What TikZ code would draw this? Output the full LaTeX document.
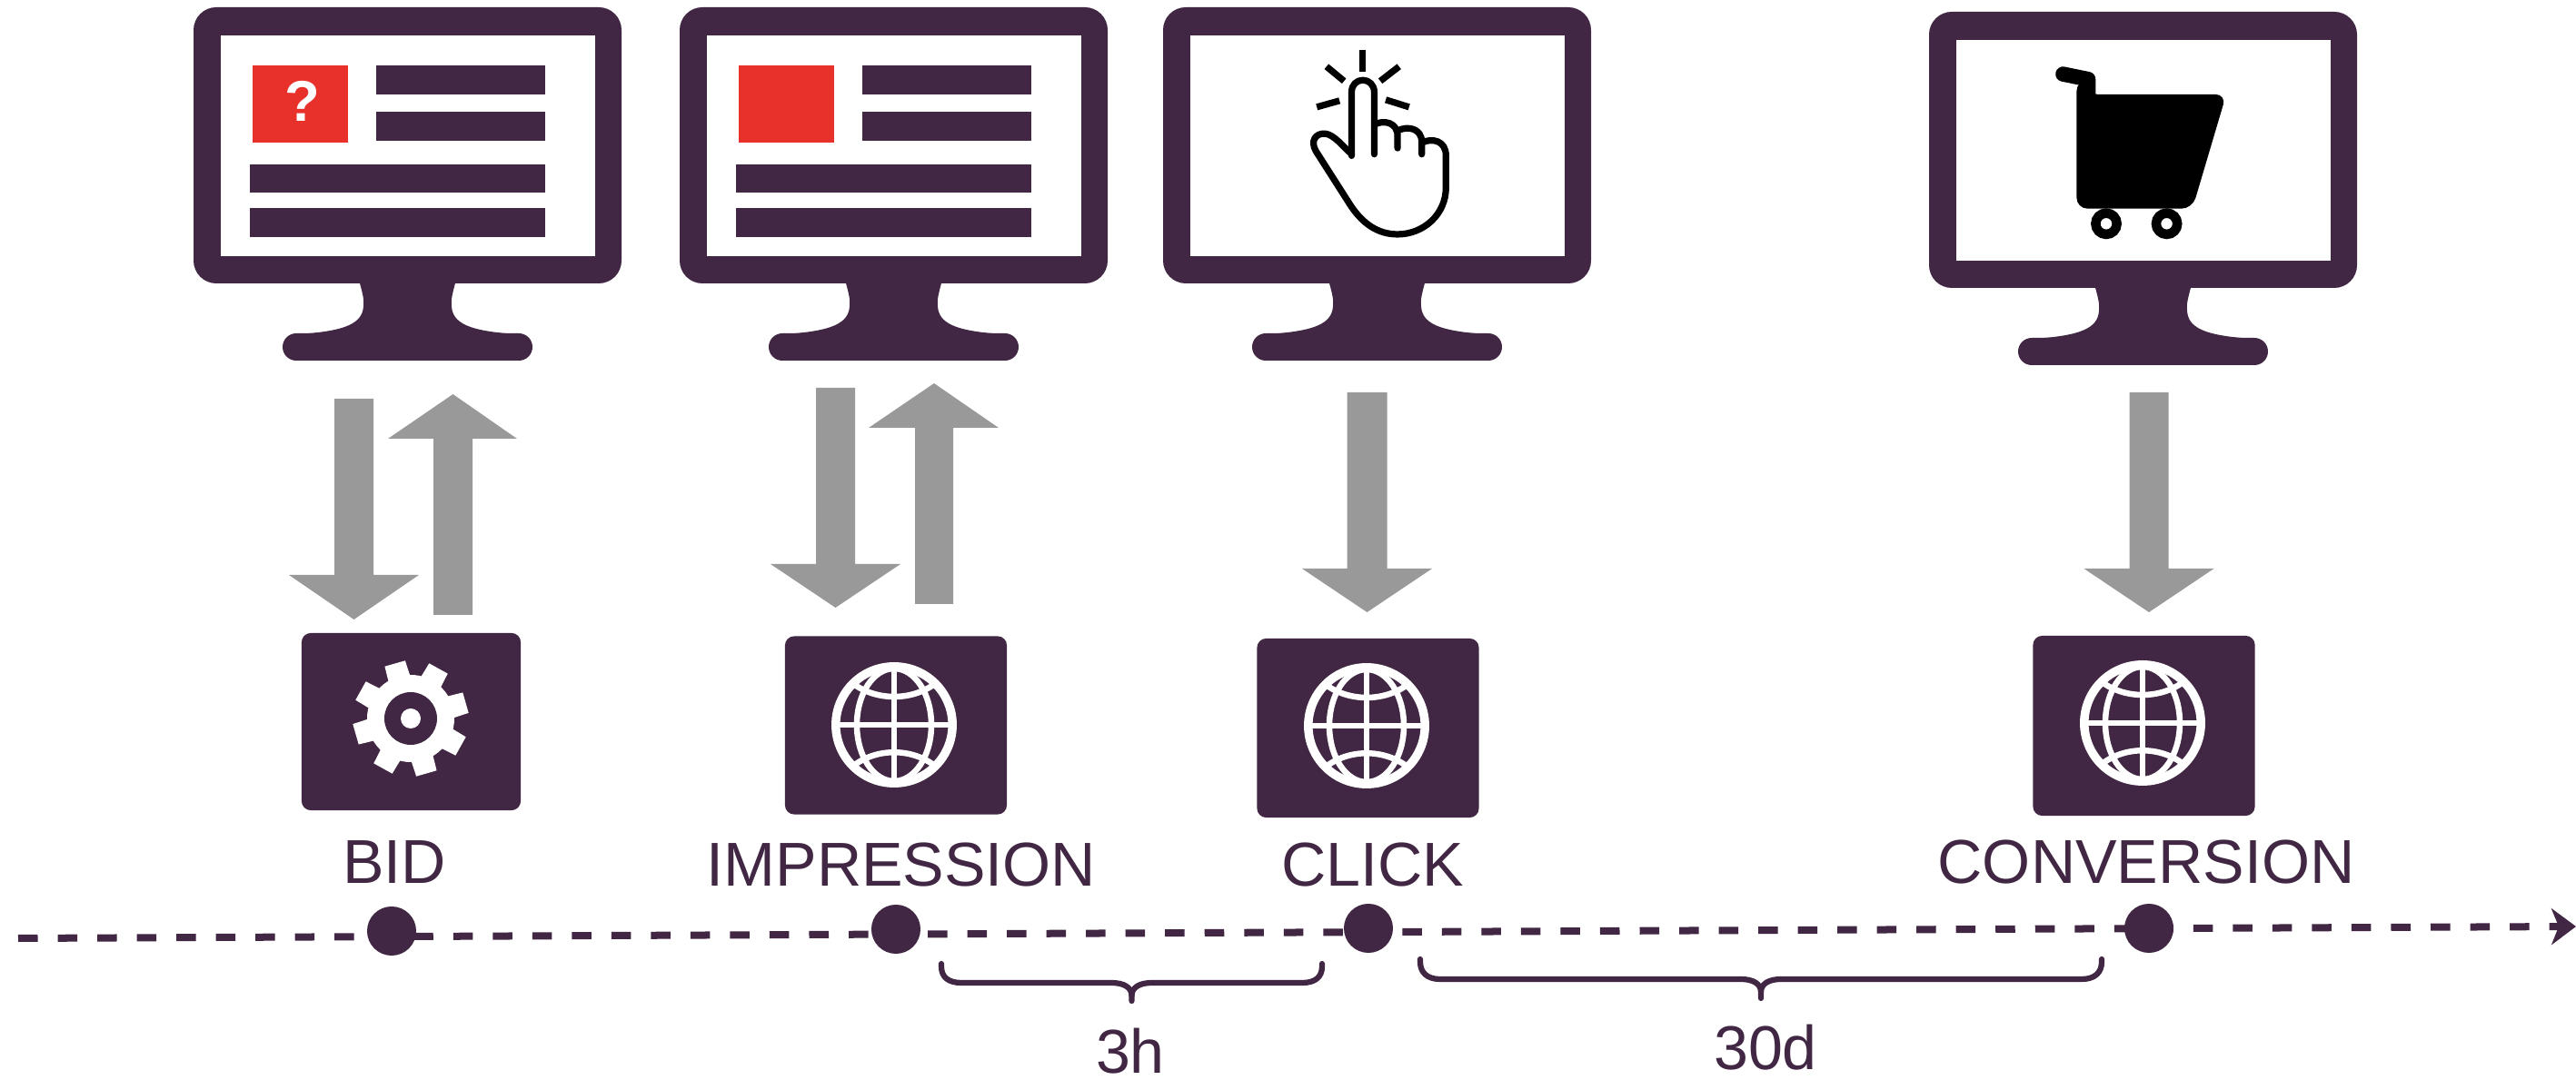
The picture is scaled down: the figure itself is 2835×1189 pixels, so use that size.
\documentclass[tikz,border=0pt]{standalone}
\usepackage{fontspec}
\setmainfont{Liberation Sans}
\usetikzlibrary{arrows.meta}
\definecolor{plum}{HTML}{412743}
\definecolor{adred}{HTML}{E8312A}
\definecolor{arrowgrey}{HTML}{999999}
\tikzset{
  plumfill/.style={fill=plum,draw=none},
  caption/.style={text=plum,font=\fontsize{19.4pt}{22pt}\selectfont,inner sep=0pt,anchor=base},
  serverbox/.style={fill=plum,draw=none,rounded corners=0.1cm,inner sep=0pt,minimum width=2.44cm,minimum height=1.96cm},
  dot/.style={circle,fill=plum,draw=none,inner sep=0pt,minimum size=0.54cm},
  timeline/.style={draw=plum,line width=0.08cm,dash pattern=on 0.215cm off 0.22cm},
  spanbrace/.style={draw=plum,line width=0.062cm,line cap=round,line join=round},
  globeline/.style={draw=white,line width=0.065cm},
  blockarrow/.style={fill=arrowgrey,draw=none},
  handline/.style={draw=black,line width=0.072cm,line cap=round,line join=round}
}
\newcommand{\monitorframe}[2]{%
  \begin{scope}[shift={(#1,#2)}]
    \fill[plumfill,rounded corners=0.25cm] (0,0) rectangle (471,304);
    \fill[white] (30,31) rectangle (441.5,274);
    \fill[plumfill,rounded corners=0.15cm] (98,359) rectangle (373,389);
    \fill[plumfill] (182,300) .. controls (186,315) and (188,322) .. (187,329)
       .. controls (186,347) and (170,357) .. (112,360) -- (112,375) -- (359,375) -- (359,360)
       .. controls (301,357) and (285,347) .. (284,329)
       .. controls (283,322) and (285,315) .. (289,300) -- cycle;
  \end{scope}}
\newcommand{\adpage}[2]{%
  \begin{scope}[shift={(#1,#2)}]
    \fill[adred] (65,64) rectangle (169.5,149);
    \fill[plumfill] (200.5,64) rectangle (387,96);
    \fill[plumfill] (200.5,115) rectangle (387,147);
    \fill[plumfill] (62.4,173) rectangle (387,204);
    \fill[plumfill] (62.4,221) rectangle (387,253);
  \end{scope}}
\newcommand{\globeicon}[2]{%
  \begin{scope}[shift={(#1,#2)}]
    \draw[draw=white,line width=0.095cm] (0,0) circle[radius=64.2];
    \draw[globeline] (0,-62) -- (0,62);
    \draw[globeline] (-62,0) -- (62,0);
    \draw[globeline] (0,0) ellipse[x radius=41,y radius=62];
    \draw[globeline] (-46,-46) .. controls (-20,-26) and (20,-26) .. (46,-46);
    \draw[globeline] (-46,46) .. controls (-20,25) and (20,25) .. (46,46);
  \end{scope}}
\newcommand{\gearicon}[2]{%
  \begin{scope}[shift={(#1,#2)}]
    \fill[white] (0,0) circle[radius=48];
    \foreach \k in {0,...,7}{
      \fill[white] ({-(16+45*\k)+16}:45) -- ({-(16+45*\k)+10.5}:64) -- ({-(16+45*\k)-10.5}:64) -- ({-(16+45*\k)-16}:45) -- cycle;
    }
    \fill[plum] (0,0) circle[radius=29];
    \fill[white] (0,0) circle[radius=11];
  \end{scope}}
\newcommand{\downarrowshape}[5]{% x-centre, top, base, tip, half-shaft
  \fill[blockarrow] ({#1-#5},#2) -- ({#1+#5},#2) -- ({#1+#5},#3) -- ({#1+71.5},#3) -- (#1,#4) -- ({#1-71.5},#3) -- ({#1-#5},#3) -- cycle;}
% brace from a named coordinate: width, half width, bar drop, tip drop
\newcommand{\spanbraceshape}[5]{%
  \begin{scope}[shift={(#1)}]
    \draw[spanbrace] (0,0) -- (0,3) .. controls (0,15) and (8,#4) .. (22,#4) -- ({#3-22},#4)
       .. controls ({#3-9},#4) and (#3,{#4+5}) .. (#3,{#4+14}) -- (#3,#5);
    \draw[spanbrace] (#2,0) -- (#2,3) .. controls (#2,15) and ({#2-8},#4) .. ({#2-22},#4) -- ({#3+22},#4)
       .. controls ({#3+9},#4) and (#3,{#4+5}) .. (#3,{#4+14});
  \end{scope}}
\begin{document}
\begin{tikzpicture}[x=0.01cm,y=-0.01cm]
\useasboundingbox (0,0) rectangle (2835,1189);
% monitors
\monitorframe{213}{8}
\monitorframe{748}{8}
\monitorframe{1280}{8}
\monitorframe{2123}{13}
\adpage{213}{8}
\adpage{748}{8}
\node[text=white,font=\fontsize{18pt}{20pt}\selectfont\bfseries,inner sep=0pt,anchor=base] (qmark) at (332.5,134) {?};
% click hand
\begin{scope}[shift={(1380,30)},x=0.003333cm,y=-0.003333cm]
  \draw[handline,line cap=butt] (360,75) -- (360,148);
  \draw[handline,line cap=butt] (240,130) -- (298,178);
  \draw[handline,line cap=butt] (480,130) -- (418,178);
  \draw[handline,line cap=butt] (208,264) -- (283,243);
  \draw[handline,line cap=butt] (513,264) -- (436,240);
  \draw[handline] (323,425) -- (323,215) .. controls (323,190) and (340,175) .. (360,175)
     .. controls (380,175) and (398,190) .. (398,215) -- (398,420);
  \draw[handline] (398,322) .. controls (430,305) and (475,315) .. (475,360) -- (475,400);
  \draw[handline] (475,342) .. controls (510,325) and (555,335) .. (555,380) -- (555,420);
  \draw[handline] (555,382) .. controls (590,365) and (635,375) .. (635,425) -- (635,530)
     .. controls (635,620) and (560,685) .. (475,685)
     .. controls (410,685) and (360,650) .. (320,590) -- (205,410)
     .. controls (185,375) and (205,350) .. (235,352)
     .. controls (265,355) and (295,395) .. (323,420);
\end{scope}
% cart
\begin{scope}[shift={(2120,30)},x=0.003333cm,y=-0.003333cm]
  \draw[black,line width=0.165cm,line cap=round,line join=round] (452,155) -- (535,172) -- (535,240);
  \fill[black,rounded corners=0.12cm] (497,175) -- (497,600) -- (880,600) -- (992,222) -- (530,222) -- (530,175) -- cycle;
  \draw[black,line width=0.105cm] (595,650) circle[radius=35];
  \draw[black,line width=0.105cm] (795,650) circle[radius=35];
\end{scope}
% block arrows
\downarrowshape{389.5}{439}{633}{682}{21.5}
\fill[blockarrow] (477,677) -- (520,677) -- (520,483) -- (569,483) -- (498.5,434) -- (427,483) -- (477,483) -- cycle;
\downarrowshape{919.5}{427}{621}{669}{21.5}
\fill[blockarrow] (1007,665) -- (1049,665) -- (1049,471) -- (1099,471) -- (1028,422) -- (956,471) -- (1007,471) -- cycle;
\downarrowshape{1504.5}{432}{626}{674}{22}
\downarrowshape{2365}{432}{626}{674}{21.5}
% server boxes
\node[serverbox,minimum width=2.41cm,minimum height=1.95cm] (bidbox) at (452.5,794.5) {};
\node[serverbox] (impbox) at (986,798.5) {};
\node[serverbox,minimum height=1.97cm] (clickbox) at (1505.5,801.5) {};
\node[serverbox,minimum height=1.98cm] (convbox) at (2359.5,799) {};
\gearicon{452}{791}
\globeicon{984}{798}
\globeicon{1504}{799}
\globeicon{2358}{796}
% captions
\node[caption] (bidlabel) at (434,973) {BID};
\node[caption] (implabel) at (992,976) {IMPRESSION};
\node[caption] (clicklabel) at (1511,976) {CLICK};
\node[caption] (convlabel) at (2362,973) {CONVERSION};
% timeline
\coordinate (tstart) at (20,1033);
\coordinate (tend) at (2835,1020);
\draw[timeline,-{Stealth[length=0.27cm,width=0.4cm,inset=0.08cm]}] (tstart) -- (tend);
\node[dot] (biddot) at (431,1025) {};
\node[dot] (impdot) at (986,1023) {};
\node[dot] (clickdot) at (1506,1022) {};
\node[dot] (convdot) at (2365,1022) {};
% braces
\coordinate (b1l) at (1036,1061);
\coordinate (b2l) at (1563,1056);
\spanbraceshape{b1l}{419}{209.5}{21}{41}
\spanbraceshape{b2l}{750}{375}{22}{43}
\node[caption] (hlabel) at (1244,1182) {3h};
\node[caption] (dlabel) at (1943,1178) {30d};
\end{tikzpicture}
\end{document}
